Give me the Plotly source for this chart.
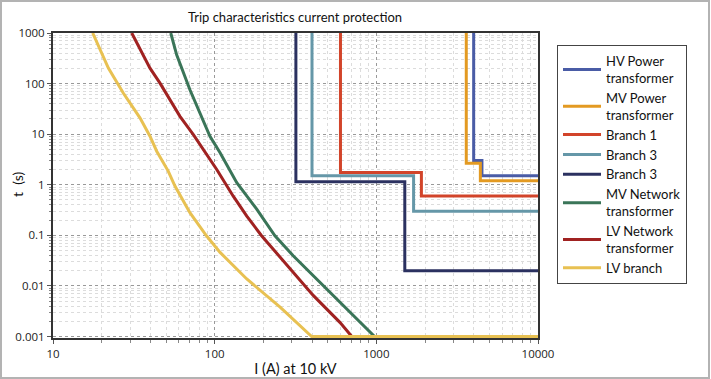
import plotly.graph_objects as go

# --- data ---
hv_I = [4000, 4000, 4500, 4500, 10000]
hv_t = [1000, 3.0, 3.0, 1.5, 1.5]
mv_I = [3600, 3600, 4400, 4400, 10000]
mv_t = [1000, 2.65, 2.65, 1.2, 1.2]
br1_I = [600, 600, 1900, 1900, 10000]
br1_t = [1000, 1.75, 1.75, 0.6, 0.6]
br3a_I = [400, 400, 1700, 1700, 10000]
br3a_t = [1000, 1.5, 1.5, 0.3, 0.3]
br3b_I = [318, 318, 1500, 1500, 10000]
br3b_t = [1000, 1.15, 1.15, 0.02, 0.02]
mvn_I = [53.5, 58.2, 70.3, 93.5, 108, 137, 182, 236, 306, 407, 595, 975, 10000]
mvn_t = [1000, 369, 75.5, 9.1, 4.3, 1.1, 0.33, 0.098, 0.0395, 0.016, 0.0048, 0.001, 0.001]
lvn_I = [30.7, 39.8, 45.9, 61, 73.8, 103, 130, 158, 195, 230, 306, 407, 595, 705, 10000]
lvn_t = [1000, 202, 102, 22.5, 9.8, 2.0, 0.6, 0.24, 0.098, 0.053, 0.0186, 0.0065, 0.0019, 0.001, 0.001]
lvb_I = [17.6, 22, 27.2, 34.5, 39.8, 43.8, 51.6, 56.8, 70.3, 89, 108, 158, 254, 398, 10000]
lvb_t = [1000, 202, 65, 21, 9.1, 4.6, 1.86, 0.94, 0.28, 0.098, 0.046, 0.0137, 0.0038, 0.001, 0.001]

names = ["HV Power<br>transformer", "MV Power<br>transformer", "Branch 1", "Branch 3",
         "Branch 3", "MV Network<br>transformer", "LV Network<br>transformer", "LV branch"]
colors = ["#4A5CA6", "#E39A22", "#D2442A", "#6597A8", "#2B3160", "#3A7558", "#A02221", "#E8C152"]
series = [(hv_I, hv_t), (mv_I, mv_t), (br1_I, br1_t), (br3a_I, br3a_t), (br3b_I, br3b_t),
          (mvn_I, mvn_t), (lvn_I, lvn_t), (lvb_I, lvb_t)]

x_ticks = [10, 100, 1000, 10000]
x_labels = ["10", "100", "1000", "10000"]
y_ticks = [0.001, 0.01, 0.1, 1, 10, 100, 1000]
y_labels = ["0.001", "0.01", "0.1", "1", "10", "100", "1000"]

fig = go.Figure()
for (I, t), n, c in zip(series, names, colors):
    fig.add_trace(go.Scatter(x=I, y=t, mode="lines", name=n,
                             line=dict(color=c, width=3)))

minor_x = [m * 10 ** d for d in range(1, 4) for m in range(2, 10)]
minor_y = [m * 10.0 ** d for d in range(-3, 3) for m in range(2, 10)]

tickfont = dict(family="Open Sans, sans-serif", size=11.5, color="#222")
fig.update_xaxes(type="log", range=[1, 4], tickvals=x_ticks, ticktext=x_labels,
                 showgrid=True, gridcolor="#999", griddash="dot", gridwidth=1,
                 minor=dict(tickvals=minor_x, showgrid=True, gridcolor="#dcdcdc", gridwidth=1,
                            ticks="outside", ticklen=3, tickcolor="#888"),
                 ticks="outside", ticklen=4, tickcolor="#555",
                 showline=True, linecolor="#333", linewidth=2, mirror=True,
                 tickfont=tickfont, zeroline=False, automargin=False,
                 title=dict(text="I (A) at 10 kV", font=dict(family="Lato, sans-serif", size=14.5, color="#111"), standoff=4))
fig.update_yaxes(type="log", range=[-3.03, 3], tickvals=y_ticks, ticktext=y_labels,
                 showgrid=True, gridcolor="#999", griddash="dot", gridwidth=1,
                 minor=dict(tickvals=minor_y, showgrid=True, gridcolor="#dcdcdc", gridwidth=1,
                            ticks="outside", ticklen=2, tickcolor="#888"),
                 ticks="outside", ticklen=4, tickcolor="#555",
                 showline=True, linecolor="#333", linewidth=2, mirror=True,
                 tickfont=tickfont, zeroline=False, automargin=False)

fig.update_layout(
    width=711, height=379,
    margin=dict(l=53, r=173, t=33, b=41, autoexpand=False),
    paper_bgcolor="white", plot_bgcolor="white",
    title=dict(text="Trip characteristics current protection", x=295 / 711,
               xanchor="center", y=1 - 17 / 379, yanchor="middle",
               font=dict(family="Lato, sans-serif", size=13, color="#111")),
    showlegend=True,
    legend=dict(x=(557 - 53) / 485, y=(338 - 45) / 305, xanchor="left", yanchor="top",
                bordercolor="#444", borderwidth=1, bgcolor="white",
                font=dict(family="Lato, sans-serif", size=13, color="#111"),
                itemwidth=38, tracegroupgap=0),
)

fig.add_annotation(text="t  (s)", xref="paper", yref="paper",
                   x=(17 - 53) / 485, y=(338 - 185) / 305, textangle=-90,
                   showarrow=False, xanchor="center", yanchor="middle",
                   font=dict(family="Lato, sans-serif", size=14, color="#111"))

# outer border
fig.add_shape(type="rect", xref="paper", yref="paper",
              x0=-52 / 485, x1=(709 - 53) / 485, y0=-40 / 305, y1=(338 - 1) / 305,
              line=dict(color="#b3b3b3", width=2), layer="below")

fig.write_html("out.html")
